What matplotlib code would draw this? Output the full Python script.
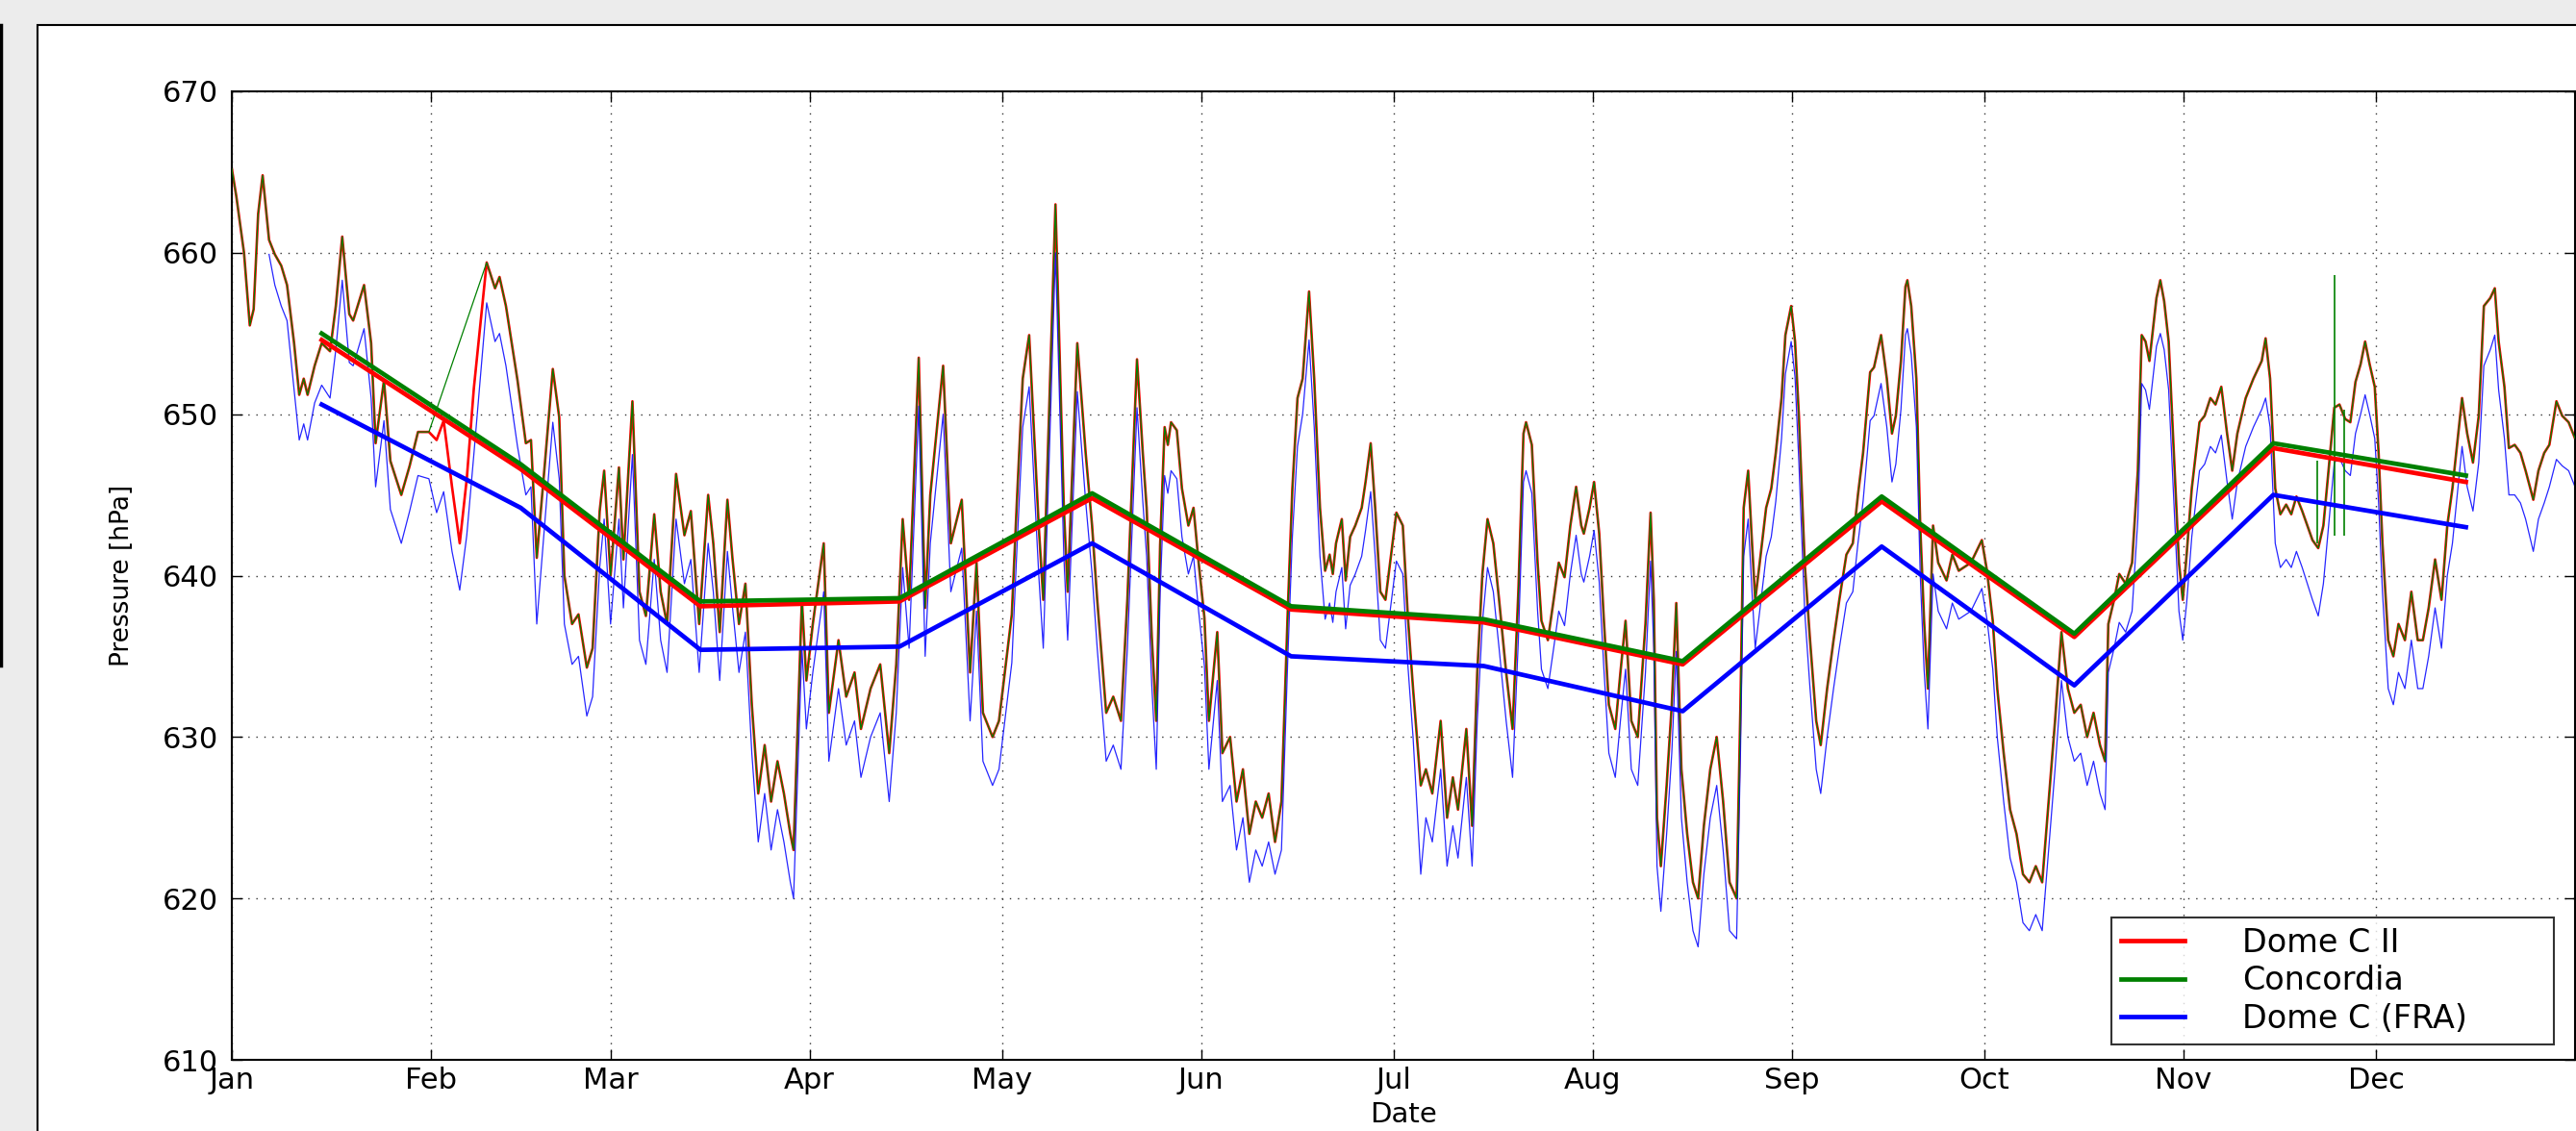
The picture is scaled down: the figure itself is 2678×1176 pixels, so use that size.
"""Surface pressure at Dome C: three stations, sub-daily data and monthly means."""

import matplotlib.pyplot as plt
import numpy as np
from matplotlib.lines import Line2D
from matplotlib.patches import Rectangle

nan = np.nan

month_labels = ["Jan", "Feb", "Mar", "Apr", "May", "Jun",
                "Jul", "Aug", "Sep", "Oct", "Nov", "Dec"]
month_starts = [0, 31, 59, 90, 120, 151, 181, 212, 243, 273, 304, 334]

# monthly means, plotted at mid-month
mean_days = [14, 45, 73, 104, 134, 165, 195, 226, 257, 287, 318, 348]
dome_c2_mean = [654.6, 646.6, 638.1, 638.4, 644.8, 637.9,
                637.1, 634.5, 644.6, 636.2, 647.9, 645.8]
concordia_mean = [655.0, 646.9, 638.4, 638.6, 645.1, 638.1,
                  637.3, 634.7, 644.9, 636.4, 648.2, 646.2]
dome_c_fra_mean = [650.6, 644.2, 635.4, 635.6, 642.0, 635.0,
                   634.4, 631.6, 641.8, 633.2, 645.0, 643.0]

hf_days = [
    0.0, 0.7, 1.9, 2.8, 3.4, 4.1, 4.8, 5.8, 6.7, 7.7,
    8.6, 9.7, 10.5, 11.2, 11.8, 12.9, 14.0, 15.3, 16.2, 17.2,
    18.3, 18.9, 20.6, 21.7, 22.4, 23.7, 24.7, 26.4, 27.7, 29.0,
    30.7, 31.9, 33.0, 34.3, 35.5, 36.6, 37.7, 39.7, 41.0, 41.7,
    42.7, 44.5, 45.8, 46.6, 47.5, 48.8, 50.0, 51.0, 51.8, 53.0,
    54.0, 55.3, 56.2, 57.3, 58.0, 59.0, 60.3, 61.0, 62.4, 63.5,
    64.5, 65.8, 66.8, 67.8, 69.2, 70.5, 71.5, 72.8, 74.2, 75.0,
    76.0, 77.2, 78.0, 79.0, 80.0, 81.0, 82.0, 83.0, 84.0, 85.0,
    86.0, 87.0, 87.5, 88.8, 89.5, 90.5, 92.2, 93.0, 94.5, 95.7,
    97.0, 98.0, 99.5, 101.0, 102.4, 103.5, 104.5, 105.5, 107.0, 108.0,
    108.8, 110.8, 112.0, 113.7, 115.0, 116.0, 117.0, 118.5, 119.5, 121.5,
    122.3, 123.2, 124.2, 125.7, 126.4, 127.3, 128.3, 129.6, 130.2, 131.7,
    133.0, 134.0, 134.8, 136.2, 137.3, 138.5, 139.5, 141.0, 141.9, 142.5,
    143.3, 144.0, 144.6, 145.3, 145.8, 146.3, 147.2, 148.0, 149.0, 149.8,
    150.6, 151.5, 152.2, 153.5, 154.3, 155.5, 156.5, 157.5, 158.5, 159.5,
    160.5, 161.5, 162.5, 163.5, 164.5, 165.2, 166.0, 166.8, 167.8, 168.6,
    169.5, 170.3, 171.0, 171.5, 172.0, 172.9, 173.5, 174.2, 175.0, 176.0,
    176.6, 177.4, 178.1, 178.9, 179.7, 181.4, 182.4, 183.2, 184.0, 185.2,
    186.0, 187.0, 188.3, 189.3, 190.2, 191.0, 192.3, 193.2, 194.0, 194.8,
    195.6, 196.5, 197.4, 198.5, 199.5, 200.4, 201.2, 201.6, 202.5, 203.4,
    204.0, 205.0, 205.9, 206.7, 207.6, 208.5, 209.4, 210.2, 210.6, 211.5,
    212.2, 213.0, 213.7, 214.5, 215.5, 216.3, 217.1, 218.0, 219.0, 220.2,
    221.0, 221.5, 222.0, 222.6, 223.5, 224.3, 225.0, 225.8, 226.7, 227.6,
    228.4, 229.3, 230.3, 231.3, 232.3, 233.3, 234.4, 235.0, 235.5, 236.2,
    236.8, 237.3, 238.0, 239.0, 239.8, 240.5, 241.4, 242.0, 242.9, 243.5,
    244.1, 245.0, 245.8, 246.8, 247.5, 248.5, 249.5, 250.4, 251.5, 252.5,
    253.3, 254.1, 255.2, 255.8, 256.9, 257.8, 258.6, 259.2, 260.0, 260.7,
    261.0, 261.6, 262.4, 263.0, 263.6, 264.2, 265.0, 265.8, 267.1, 268.0,
    269.0, 270.9, 272.6, 273.4, 274.3, 275.0, 276.0, 277.0, 278.0, 279.0,
    280.0, 281.0, 282.0, 283.0, 284.0, 285.0, 286.0, 287.0, 288.0, 289.0,
    290.0, 291.0, 291.8, 292.3, 293.2, 294.0, 295.0, 296.0, 296.9, 297.5,
    298.1, 298.7, 299.8, 300.4, 301.0, 301.7, 302.5, 303.3, 303.9, 304.5,
    305.3, 306.5, 307.3, 308.2, 309.0, 309.9, 310.8, 311.6, 312.4, 313.7,
    314.9, 316.2, 316.8, 317.5, 318.3, 319.1, 320.0, 320.8, 321.6, 322.5,
    323.3, 324.1, 325.0, 325.8, 326.6, 327.5, 328.3, 329.2, 330.0, 330.8,
    331.6, 332.3, 333.0, 333.8, 334.4, 335.0, 335.9, 336.7, 337.5, 338.5,
    339.5, 340.5, 341.3, 342.2, 343.2, 344.2, 345.1, 345.9, 347.4, 348.2,
    349.1, 350.0, 350.8, 351.8, 352.5, 353.1, 354.0, 354.7, 355.6, 356.5,
    357.3, 358.5, 359.3, 360.2, 361.0, 362.1, 363.0, 364.0, 365.0,
]

dome_c2_hf = [
    665.2, 663.5, 660.0, 655.5, 656.5, 662.4, 664.8, 660.8, 659.9, 659.2,
    658.0, 654.4, 651.2, 652.2, 651.2, 653.0, 654.4, 653.9, 656.7, 661.0,
    656.2, 655.8, 658.0, 654.4, 648.2, 652.1, 647.1, 645.0, 646.8, 648.9,
    648.9, 648.4, 649.6, 645.5, 642.0, 646.0, 651.6, 659.4, 657.8, 658.5,
    656.7, 652.1, 648.2, 648.4, 641.1, 647.1, 652.8, 649.8, 640.0, 637.0,
    637.6, 634.3, 635.5, 644.0, 646.5, 640.0, 646.7, 641.0, 650.8, 639.0,
    637.5, 643.8, 639.0, 637.0, 646.3, 642.5, 644.0, 637.0, 645.0, 642.0,
    636.5, 644.7, 641.0, 637.0, 639.5, 632.0, 626.5, 629.5, 626.0, 628.5,
    626.5, 624.0, 623.0, 638.5, 633.5, 637.0, 642.0, 631.5, 636.0, 632.5,
    634.0, 630.5, 633.0, 634.5, 629.0, 634.5, 643.5, 638.5, 653.5, 638.0,
    645.0, 653.0, 642.0, 644.7, 634.0, 640.8, 631.5, 630.0, 631.0, 637.6,
    644.7, 652.2, 654.9, 643.0, 638.5, 650.0, 663.0, 644.2, 639.0, 654.4,
    647.6, 643.1, 638.5, 631.5, 632.5, 631.0, 638.5, 653.4, 647.6, 644.2,
    636.2, 631.0, 641.9, 649.2, 648.1, 649.5, 649.0, 645.4, 643.1, 644.2,
    640.8, 637.4, 631.0, 636.5, 629.0, 630.0, 626.0, 628.0, 624.0, 626.0,
    625.0, 626.5, 623.5, 626.0, 638.0, 645.4, 651.0, 652.2, 657.6, 652.2,
    644.2, 640.3, 641.3, 640.1, 642.0, 643.5, 639.7, 642.4, 643.1, 644.2,
    645.8, 648.2, 644.2, 639.0, 638.5, 643.9, 643.1, 637.4, 633.0, 627.0,
    628.0, 626.5, 631.0, 625.0, 627.5, 625.5, 630.5, 624.5, 634.0, 640.1,
    643.5, 642.0, 638.5, 634.0, 630.5, 639.0, 648.8, 649.5, 648.1, 640.8,
    637.2, 636.0, 638.5, 640.8, 639.9, 643.1, 645.5, 643.1, 642.6, 644.2,
    645.8, 642.6, 637.4, 632.0, 630.5, 634.0, 637.2, 631.0, 630.0, 637.0,
    643.9, 638.5, 625.0, 622.0, 627.0, 632.0, 638.3, 628.0, 624.0, 621.0,
    620.0, 624.5, 628.0, 630.0, 626.0, 621.0, 620.0, 632.0, 644.2, 646.5,
    642.0, 638.5, 640.8, 644.2, 645.4, 647.6, 651.0, 654.9, 656.7, 654.5,
    649.9, 640.8, 636.2, 631.0, 629.5, 633.0, 636.0, 638.5, 641.3, 642.0,
    645.0, 647.6, 652.6, 652.9, 654.9, 652.2, 648.8, 649.9, 653.3, 657.9,
    658.3, 656.7, 652.2, 643.1, 637.2, 633.0, 643.1, 640.8, 639.7, 641.3,
    640.3, 640.8, 642.2, 640.3, 637.2, 633.0, 629.0, 625.5, 624.0, 621.5,
    621.0, 622.0, 621.0, 626.0, 631.0, 636.5, 633.0, 631.5, 632.0, 630.0,
    631.5, 629.5, 628.5, 637.0, 638.5, 640.1, 639.5, 640.8, 646.5, 654.9,
    654.5, 653.3, 657.2, 658.3, 657.0, 654.5, 647.6, 640.8, 638.5, 641.3,
    645.4, 649.5, 649.9, 651.0, 650.6, 651.7, 648.8, 646.5, 648.8, 651.0,
    652.2, 653.3, 654.7, 652.2, 645.4, 643.8, 644.4, 643.8, 644.9, 644.0,
    643.1, 642.2, 641.7, 643.1, 646.5, 650.4, 650.6, 649.7, 649.5, 652.0,
    653.1, 654.5, 653.1, 651.7, 647.6, 642.0, 636.0, 635.0, 637.0, 636.0,
    639.0, 636.0, 636.0, 638.0, 641.0, 638.5, 643.1, 645.4, 651.0, 648.8,
    647.0, 649.9, 656.7, 657.2, 657.8, 654.5, 651.7, 647.9, 648.1, 647.6,
    646.5, 644.7, 646.5, 647.6, 648.1, 650.8, 649.9, 649.5, 648.5,
]

dome_c_fra_hf = [
    nan, nan, nan, nan, nan, nan, nan, 659.9, 658.0, 656.7,
    655.8, 651.5, 648.4, 649.4, 648.4, 650.7, 651.8, 651.0, 654.0, 658.3,
    653.2, 653.0, 655.3, 651.0, 645.5, 649.6, 644.1, 642.0, 644.0, 646.2,
    646.0, 643.9, 645.2, 641.5, 639.1, 642.5, 647.5, 656.9, 654.5, 655.0,
    653.0, 648.0, 645.0, 645.5, 637.0, 643.5, 649.5, 646.0, 637.0, 634.5,
    635.0, 631.3, 632.5, 640.5, 643.5, 637.0, 643.5, 638.0, 647.5, 636.0,
    634.5, 641.0, 636.0, 634.0, 643.5, 639.5, 641.0, 634.0, 642.0, 639.0,
    633.5, 641.5, 638.0, 634.0, 636.5, 629.0, 623.5, 626.5, 623.0, 625.5,
    623.5, 621.0, 620.0, 635.5, 630.5, 634.0, 639.0, 628.5, 633.0, 629.5,
    631.0, 627.5, 630.0, 631.5, 626.0, 631.5, 640.5, 635.5, 650.5, 635.0,
    642.0, 650.0, 639.0, 641.7, 631.0, 637.8, 628.5, 627.0, 628.0, 634.6,
    641.7, 649.2, 651.7, 640.0, 635.5, 647.0, 660.0, 641.2, 636.0, 651.4,
    644.6, 640.1, 635.5, 628.5, 629.5, 628.0, 635.5, 650.4, 644.6, 641.2,
    633.2, 628.0, 638.9, 646.2, 645.1, 646.5, 646.0, 642.4, 640.1, 641.2,
    637.8, 634.4, 628.0, 633.5, 626.0, 627.0, 623.0, 625.0, 621.0, 623.0,
    622.0, 623.5, 621.5, 623.0, 635.0, 642.4, 648.0, 650.0, 654.6, 649.2,
    641.2, 637.3, 638.3, 637.1, 639.0, 640.5, 636.7, 639.4, 640.1, 641.2,
    642.8, 645.2, 641.2, 636.0, 635.5, 640.9, 640.1, 634.4, 630.0, 621.5,
    625.0, 623.5, 628.0, 622.0, 624.5, 622.5, 627.5, 622.0, 631.0, 637.1,
    640.5, 639.0, 635.5, 631.0, 627.5, 636.0, 645.8, 646.5, 645.1, 637.8,
    634.2, 633.0, 635.5, 637.8, 636.9, 640.1, 642.5, 640.1, 639.6, 641.2,
    642.8, 639.6, 634.4, 629.0, 627.5, 631.0, 634.2, 628.0, 627.0, 634.0,
    640.9, 635.5, 622.0, 619.2, 624.0, 629.0, 635.3, 625.0, 621.0, 618.0,
    617.0, 621.5, 625.0, 627.0, 623.0, 618.0, 617.5, 629.0, 641.2, 643.5,
    639.0, 635.5, 637.8, 641.2, 642.4, 644.6, 648.5, 652.5, 654.5, 652.3,
    647.0, 637.8, 633.2, 628.0, 626.5, 630.0, 633.0, 635.5, 638.3, 639.0,
    642.0, 644.6, 649.6, 649.9, 651.9, 649.2, 645.8, 646.9, 650.3, 654.9,
    655.3, 653.7, 649.2, 640.1, 634.2, 630.5, 640.1, 637.8, 636.7, 638.3,
    637.3, 637.8, 639.2, 637.3, 634.2, 630.0, 626.0, 622.5, 621.0, 618.5,
    618.0, 619.0, 618.0, 623.0, 628.0, 633.5, 630.0, 628.5, 629.0, 627.0,
    628.5, 626.5, 625.5, 634.0, 635.5, 637.1, 636.5, 637.8, 643.5, 651.9,
    651.5, 650.3, 654.2, 655.0, 654.0, 651.5, 644.6, 637.8, 636.0, 638.3,
    642.4, 646.5, 646.9, 648.0, 647.6, 648.7, 645.8, 643.5, 645.8, 648.0,
    649.2, 650.3, 651.0, 649.2, 642.0, 640.5, 641.0, 640.5, 641.5, 640.5,
    639.5, 638.5, 637.5, 639.5, 643.0, 647.0, 647.3, 646.5, 646.2, 648.8,
    650.0, 651.2, 650.0, 648.5, 644.5, 639.0, 633.0, 632.0, 634.0, 633.0,
    636.0, 633.0, 633.0, 635.0, 638.0, 635.5, 640.0, 642.0, 648.0, 645.5,
    644.0, 647.0, 653.0, 654.0, 654.9, 651.5, 648.5, 645.0, 645.0, 644.5,
    643.5, 641.5, 643.5, 644.5, 645.5, 647.2, 646.8, 646.5, 645.5,
]

# Concordia tracks Dome C II, but has a data gap in early February
# (bridged by a straight line) and three bad spikes in late November
concordia_gap = (30.7, 39.7)
concordia_spike_days = [324.9, 327.5, 329.0]
concordia_spike_low = [642.0, 642.5, 642.5]
concordia_spike_high = [647.1, 658.6, 650.3]

RED = "#ff0000"
GREEN = "#008000"
BLUE = "#0000ff"

W, H = 2678, 1176
fig = plt.figure(figsize=(W / 100, H / 100), dpi=100)
fig.patch.set_facecolor("#ececec")

# slide panel behind the plot
fig.patches.append(Rectangle((39 / W, -0.05), 1.1, 1.05 - 26 / H, transform=fig.transFigure,
                             facecolor="white", edgecolor="black", lw=1.5, zorder=-2))
fig.lines.append(Line2D([1 / W, 1 / W], [1 - 26 / H, 1 - 692 / H], transform=fig.transFigure,
                        color="black", lw=2.5, zorder=-2))

ax = fig.add_axes([241 / W, 1 - 1102 / H, (2677 - 241) / W, (1102 - 95) / H])

days = np.array(hf_days)
red = np.array(dome_c2_hf)
blue = np.array(dome_c_fra_hf)
keep = (days <= concordia_gap[0]) | (days >= concordia_gap[1])
has_blue = ~np.isnan(blue)

ax.plot(days, red, color=RED, lw=1.9, zorder=2)
ax.plot(days[keep], red[keep], color=GREEN, lw=0.9, zorder=3)
ax.vlines(concordia_spike_days, concordia_spike_low, concordia_spike_high,
          color=GREEN, lw=1.2, zorder=3)
ax.plot(days[has_blue], blue[has_blue], color=BLUE, lw=0.9, alpha=0.85, zorder=2)

ax.plot(mean_days, dome_c2_mean, color=RED, lw=3.4, label="Dome C II", zorder=4)
ax.plot(mean_days, concordia_mean, color=GREEN, lw=3.4, label="Concordia", zorder=5)
ax.plot(mean_days, dome_c_fra_mean, color=BLUE, lw=3.4, label="Dome C (FRA)", zorder=4)

ax.set_xlim(0, 365)
ax.set_ylim(610, 670)
ax.set_xticks(month_starts)
ax.set_xticklabels(month_labels)
ax.set_yticks(np.arange(610, 671, 10))

ax.grid(True, color="0.2", linestyle=(0, (1, 5)), lw=1.0)
ax.set_axisbelow(True)
ax.tick_params(direction="in", length=8, width=1, top=True, right=True,
               labelsize=22, colors="black")
ax.tick_params(axis="x", pad=5)
ax.tick_params(axis="y", pad=10)
for spine in ax.spines.values():
    spine.set_linewidth(1.5)

ax.set_ylabel("Pressure [hPa]", fontsize=19)
ax.yaxis.set_label_coords(-0.0415, 0.5)
ax.set_xlabel("Date", fontsize=21)
ax.xaxis.set_label_coords(0.5, -0.043)

leg = ax.legend(loc="lower left", bbox_to_anchor=(0.802, 0.0159, 0.189, 0.147),
                mode="expand", borderaxespad=0, fontsize=24, fancybox=False,
                handlelength=2.0, handletextpad=1.8, borderpad=0.3, labelspacing=0.2)
leg.get_frame().set_edgecolor("black")
leg.get_frame().set_linewidth(1.5)
leg.set_zorder(10)

fig.savefig("out.png", dpi=100, facecolor=fig.get_facecolor())
